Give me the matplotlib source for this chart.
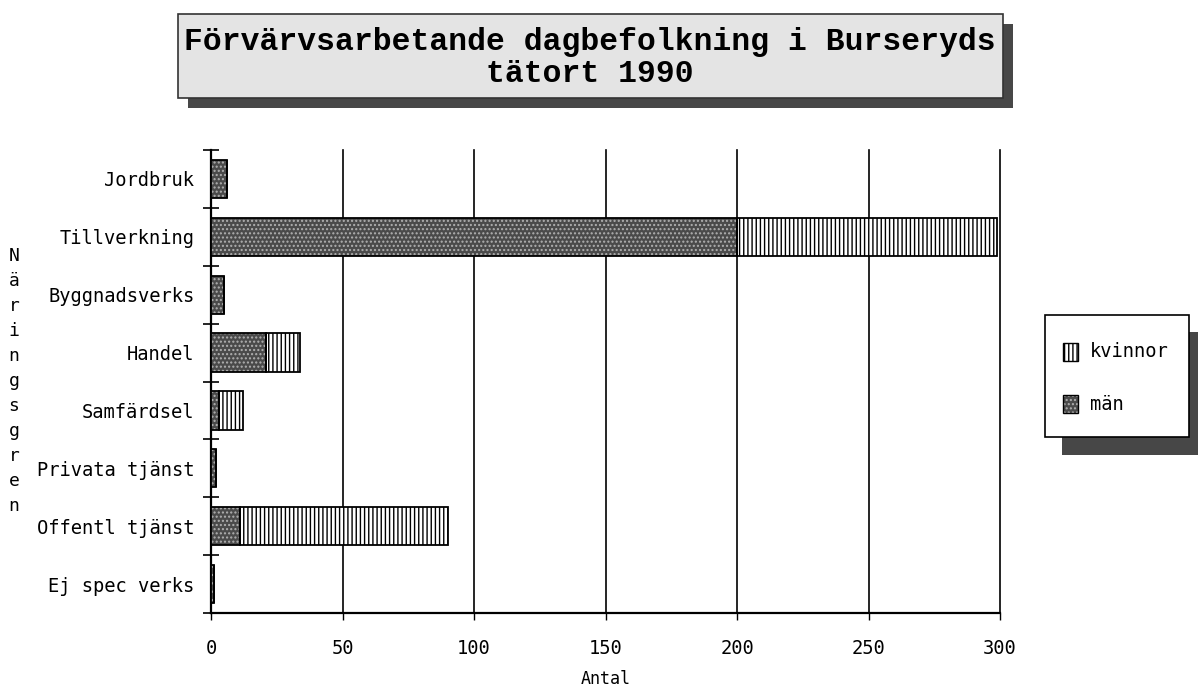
import matplotlib
matplotlib.use("Agg")
import matplotlib.pyplot as plt
from matplotlib.patches import Rectangle
import numpy as np

categories = ["Jordbruk", "Tillverkning", "Byggnadsverks", "Handel",
              "Samfärdsel", "Privata tjänst", "Offentl tjänst", "Ej spec verks"]
man = [6, 200, 5, 21, 3, 2, 11, 1]
kvinnor = [0, 99, 0, 13, 9, 0, 79, 0]
x_ticks = [0, 50, 100, 150, 200, 250, 300]

W, H = 1198, 691
MONO = "DejaVu Sans Mono"

fig = plt.figure(figsize=(W / 100, H / 100), dpi=100)
fig.patch.set_facecolor("white")
ax = fig.add_axes([211 / W, 1 - 613 / H, (1000 - 211) / W, (613 - 150) / H])

y = np.arange(len(categories))
man = np.array(man)
kvinnor = np.array(kvinnor)

# män: dark stipple, then black outline on top
ax.barh(y, man, height=0.66, color="#4a4a4a", edgecolor="#b0b0b0",
        hatch="....", linewidth=0, zorder=3)
ax.barh(y, man, height=0.66, fill=False, edgecolor="black", linewidth=1.3, zorder=4)
ax.barh(y, kvinnor, left=man, height=0.66, color="white", edgecolor="black",
        hatch="||||", linewidth=1.3, zorder=3)

ax.set_xlim(0, 300)
ax.set_ylim(len(categories) - 0.5, -0.5)
ax.set_xticks(x_ticks)
ax.set_xticklabels([str(t) for t in x_ticks], fontsize=13.5, family=MONO)
ax.set_yticks(y)
ax.set_yticklabels(categories, fontsize=13.5, family=MONO)
ax.set_yticks(np.arange(len(categories) + 1) - 0.5, minor=True)
ax.tick_params(axis="y", which="major", length=0, pad=12)
ax.tick_params(axis="y", which="minor", direction="inout", length=12, width=1.2)
ax.tick_params(axis="x", which="major", direction="out", length=5, width=1, pad=14)

for t in x_ticks[1:]:
    ax.axvline(t, color="black", linewidth=1.2, zorder=1, clip_on=False)

for side in ["top", "right"]:
    ax.spines[side].set_visible(False)
for side in ["left", "bottom"]:
    ax.spines[side].set_linewidth(1.6)

ax.set_xlabel("Antal", fontsize=12, family=MONO, labelpad=8)

# vertical stacked y label
fig.text(14 / W, 1 - 381 / H, "\n".join("Näringsgren"), fontsize=13, family=MONO,
         ha="center", va="center", linespacing=1.5)

# title box with shadow
def px_rect(x0, y0, x1, y1, **kw):
    return Rectangle((x0 / W, 1 - y1 / H), (x1 - x0) / W, (y1 - y0) / H,
                     transform=fig.transFigure, **kw)

fig.patches.append(px_rect(188, 24, 1013, 108, facecolor="#474747", edgecolor="none"))
fig.patches.append(px_rect(178, 14, 1003, 98, facecolor="#e4e4e4", edgecolor="#333333",
                           linewidth=1.2))
fig.text(590 / W, 1 - 58 / H, "Förvärvsarbetande dagbefolkning i Burseryds\ntätort 1990",
         fontsize=22.6, family="Liberation Mono", fontweight="bold", ha="center",
         va="center", linespacing=1.05)

# legend box with shadow
fig.patches.append(px_rect(1062, 332, 1215, 455, facecolor="#474747", edgecolor="none"))
fig.patches.append(px_rect(1045, 315, 1189, 437, facecolor="white", edgecolor="black",
                           linewidth=1.2))
fig.patches.append(px_rect(1063, 343, 1078, 361, facecolor="white", edgecolor="black",
                           hatch="||||", linewidth=1.0))
fig.patches.append(px_rect(1063, 395, 1078, 413, facecolor="#4a4a4a", edgecolor="#b0b0b0",
                           hatch="....", linewidth=0))
fig.patches.append(px_rect(1063, 395, 1078, 413, fill=False, edgecolor="black", linewidth=1.0))
fig.text(1090 / W, 1 - 352 / H, "kvinnor", fontsize=13.5, family=MONO, va="center")
fig.text(1090 / W, 1 - 404 / H, "män", fontsize=13.5, family=MONO, va="center")

fig.savefig("out.png", dpi=100)
